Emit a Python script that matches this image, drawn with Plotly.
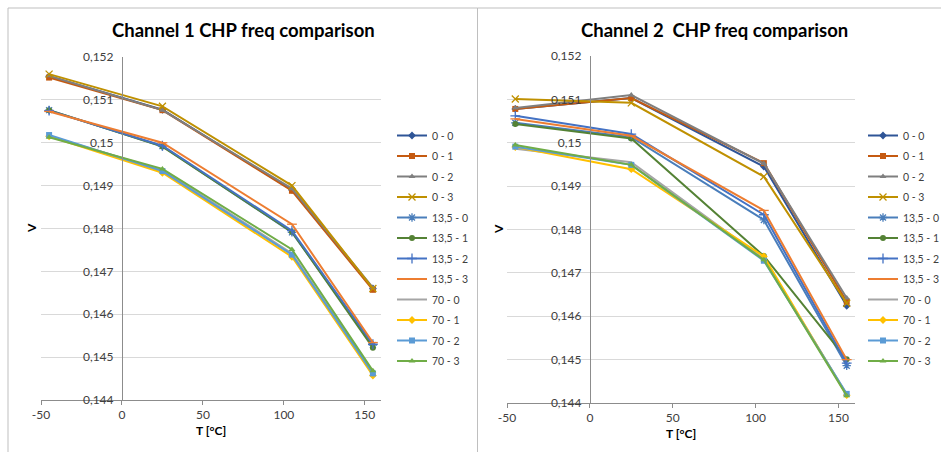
import plotly.graph_objects as go

# Temperatures at which every configuration was measured (°C)
temps = [-45, 25, 105, 155]

# Series names (frequency setting - CHP code)
series_names = ["0 - 0", "0 - 1", "0 - 2", "0 - 3",
                "13,5 - 0", "13,5 - 1", "13,5 - 2", "13,5 - 3",
                "70 - 0", "70 - 1", "70 - 2", "70 - 3"]

# Channel 1 output voltage (V)
ch1_0_0 = [0.15155, 0.15077, 0.14890, 0.14660]
ch1_0_1 = [0.15152, 0.15076, 0.14888, 0.14657]
ch1_0_2 = [0.15156, 0.15076, 0.14893, 0.14662]
ch1_0_3 = [0.15160, 0.15085, 0.14900, 0.14660]
ch1_13_0 = [0.15076, 0.14992, 0.14791, 0.14528]
ch1_13_1 = [0.15076, 0.14991, 0.14792, 0.14522]
ch1_13_2 = [0.15075, 0.14993, 0.14795, 0.14530]
ch1_13_3 = [0.15073, 0.15000, 0.14810, 0.14534]
ch1_70_0 = [0.15016, 0.14936, 0.14742, 0.14462]
ch1_70_1 = [0.15015, 0.14930, 0.14734, 0.14457]
ch1_70_2 = [0.15018, 0.14934, 0.14739, 0.14462]
ch1_70_3 = [0.15013, 0.14939, 0.14751, 0.14468]

# Channel 2 output voltage (V)
ch2_0_0 = [0.15078, 0.15103, 0.14945, 0.14624]
ch2_0_1 = [0.15078, 0.15103, 0.14953, 0.14634]
ch2_0_2 = [0.15080, 0.15110, 0.14952, 0.14642]
ch2_0_3 = [0.15101, 0.15092, 0.14922, 0.14630]
ch2_13_0 = [0.15046, 0.15013, 0.14822, 0.14486]
ch2_13_1 = [0.15043, 0.15010, 0.14739, 0.14501]
ch2_13_2 = [0.15062, 0.15020, 0.14834, 0.14492]
ch2_13_3 = [0.15055, 0.15016, 0.14844, 0.14500]
ch2_70_0 = [0.14986, 0.14955, 0.14732, 0.14420]
ch2_70_1 = [0.14990, 0.14939, 0.14738, 0.14418]
ch2_70_2 = [0.14991, 0.14949, 0.14728, 0.14421]
ch2_70_3 = [0.14995, 0.14949, 0.14730, 0.14417]

ch1 = [ch1_0_0, ch1_0_1, ch1_0_2, ch1_0_3, ch1_13_0, ch1_13_1, ch1_13_2, ch1_13_3,
       ch1_70_0, ch1_70_1, ch1_70_2, ch1_70_3]
ch2 = [ch2_0_0, ch2_0_1, ch2_0_2, ch2_0_3, ch2_13_0, ch2_13_1, ch2_13_2, ch2_13_3,
       ch2_70_0, ch2_70_1, ch2_70_2, ch2_70_3]

# Axis ticks
x_ticks = [-50, 0, 50, 100, 150]
x_ticktext = ["-50", "0", "50", "100", "150"]
y_ticks = [0.144, 0.145, 0.146, 0.147, 0.148, 0.149, 0.150, 0.151, 0.152]
y_ticktext = ["0,144", "0,145", "0,146", "0,147", "0,148", "0,149", "0,15", "0,151", "0,152"]

X_RANGE = [-50, 160]
Y_RANGE = [0.144, 0.152]

# Line colour and marker style for each series
colors = ["#2F5597", "#C55A11", "#7F7F7F", "#BF9000",
          "#4A7EBB", "#548235", "#4472C4", "#ED7D31",
          "#A5A5A5", "#FFC000", "#5B9BD5", "#70AD47"]
symbols = ["diamond", "square", "triangle-up", "x-thin",
           "asterisk", "circle", "cross-thin", "line-ew",
           None, "diamond", "square", "triangle-up"]
thin = {"x-thin", "asterisk", "cross-thin", "line-ew"}

W, H = 941, 452
FONT = "Lato, Calibri, 'Liberation Sans', sans-serif"

fig = go.Figure()


def add_series(values, xa, ya, legend, tag):
    for name, ys, col, sym in zip(series_names, values, colors, symbols):
        marker = dict(color=col, size=6)
        mode = "lines+markers"
        if sym is None:
            mode = "lines"
        else:
            marker["symbol"] = sym
            if sym in thin:
                marker["line"] = dict(color=col, width=1.3)
                marker["size"] = 7
        fig.add_trace(go.Scatter(
            x=temps, y=ys, name=name, mode=mode,
            line=dict(color=col, width=2),
            marker=marker, xaxis=xa, yaxis=ya,
            legend=legend, legendgroup=tag + name,
        ))


add_series(ch1, "x", "y", "legend", "c1-")
add_series(ch2, "x2", "y2", "legend2", "c2-")

# Plot-area placement in pixels
left_dom = [41 / W, 381 / W]
right_dom = [507 / W, 855 / W]
left_ydom = [1 - 400 / H, 1 - 57 / H]
right_ydom = [1 - 403 / H, 1 - 56 / H]


def zero_pos(dom):
    # paper position where x = 0 falls, so the value axis crosses there
    return dom[0] + (0 - X_RANGE[0]) / (X_RANGE[1] - X_RANGE[0]) * (dom[1] - dom[0])


tickfont = dict(family=FONT, size=12, color="#404040")
axis_title_font = dict(family=FONT, size=12, color="#000000")

xaxis_common = dict(
    range=X_RANGE, tickvals=x_ticks, ticktext=x_ticktext, showgrid=False, zeroline=False,
    showline=True, linecolor="#8C8C8C", linewidth=1,
    ticks="outside", ticklen=4, tickcolor="#8C8C8C", tickfont=tickfont,
)
yaxis_common = dict(
    range=Y_RANGE, tickvals=y_ticks, ticktext=y_ticktext,
    showgrid=True, gridcolor="#D9D9D9", gridwidth=1, zeroline=False,
    showline=True, linecolor="#8C8C8C", linewidth=1, ticks="",
    ticklabelstandoff=6, tickfont=tickfont, anchor="free",
)

legend_common = dict(
    font=dict(family=FONT, size=10.5, color="#404040"),
    bgcolor="rgba(0,0,0,0)", borderwidth=0, tracegroupgap=1.5,
    xanchor="left", yanchor="top", itemclick=False, itemdoubleclick=False,
)

fig.update_layout(
    width=W, height=H,
    margin=dict(l=0, r=0, t=0, b=0, autoexpand=False),
    paper_bgcolor="white", plot_bgcolor="white",
    font=dict(family=FONT),
    xaxis=dict(domain=left_dom, anchor="y", **xaxis_common),
    yaxis=dict(domain=left_ydom, position=zero_pos(left_dom), **yaxis_common),
    xaxis2=dict(domain=right_dom, anchor="y2", **xaxis_common),
    yaxis2=dict(domain=right_ydom, position=zero_pos(right_dom), **yaxis_common),
    legend=dict(x=392 / W, y=1 - 121 / H, **legend_common),
    legend2=dict(x=863 / W, y=1 - 121 / H, **legend_common),
    showlegend=True,
)

# Chart titles
for label, xpx in [("<b>Channel 1 CHP freq comparison</b>", 243),
                   ("<b>Channel 2\u00a0 CHP freq comparison</b>", 714)]:
    fig.add_annotation(text=label, x=xpx / W, y=1 - 30 / H, xref="paper", yref="paper",
                       xanchor="center", yanchor="middle", showarrow=False,
                       font=dict(family=FONT, size=18.5, color="#000000"))

# Axis titles: rotated "V" for the value axes, "T [°C]" under each plot area
for xpx, ypx in [(31, 228), (499, 229)]:
    fig.add_annotation(text="<b>V</b>", x=xpx / W, y=1 - ypx / H, xref="paper", yref="paper",
                       xanchor="center", yanchor="middle",
                       showarrow=False, textangle=-90, font=axis_title_font)
for dom, ypx in [(left_dom, 430), (right_dom, 433)]:
    fig.add_annotation(text="<b>T [°C]</b>", x=(dom[0] + dom[1]) / 2, y=1 - ypx / H,
                       xref="paper", yref="paper", xanchor="center", yanchor="middle",
                       showarrow=False, font=axis_title_font)

# Chart-area frames
fig.add_shape(type="rect", xref="paper", yref="paper",
              x0=8 / W, x1=477.5 / W, y0=-0.2, y1=1 - 8 / H,
              line=dict(color="#BFBFBF", width=1), fillcolor="rgba(0,0,0,0)", layer="below")
fig.add_shape(type="rect", xref="paper", yref="paper",
              x0=477.5 / W, x1=1.2, y0=-0.2, y1=1 - 8 / H,
              line=dict(color="#BFBFBF", width=1), fillcolor="rgba(0,0,0,0)", layer="below")

fig.write_html("out.html")
